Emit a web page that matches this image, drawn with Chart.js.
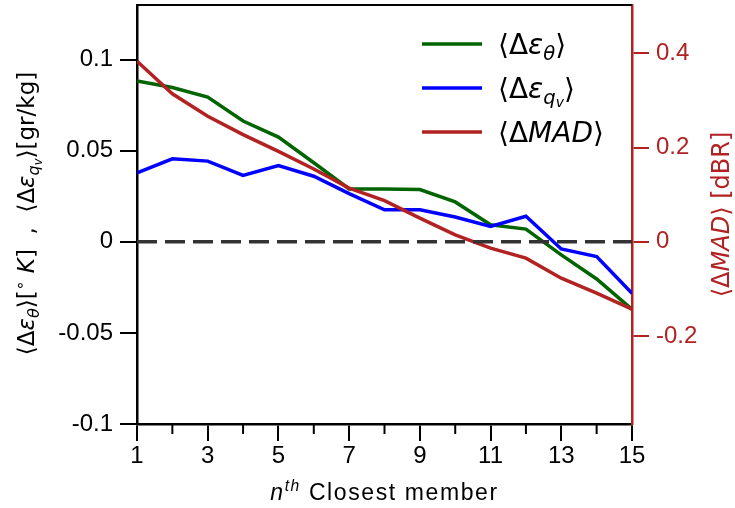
<!DOCTYPE html>
<html lang="en">
  <head>
    <meta charset="UTF-8" />
    <title>Closest member anomalies</title>
    <script src="https://cdn.jsdelivr.net/npm/chart.js@4.4.0/dist/chart.umd.min.js"></script>
    <style>
      body { margin: 0; background: #fff; }
      #wrap { width: 735px; height: 508px; position: relative; }
    </style>
  </head>
  <body>
    <div id="wrap"><canvas id="myChart"></canvas></div>

    <script>
      // values
      const members = [1, 2, 3, 4, 5, 6, 7, 8, 9, 10, 11, 12, 13, 14, 15];
      const epsTheta = [0.0883, 0.0847, 0.0795, 0.0663, 0.0575, 0.0434, 0.029, 0.029, 0.0287, 0.0219, 0.0094, 0.007, -0.0072, -0.0204, -0.0371];
      const epsQv = [0.0379, 0.0456, 0.0443, 0.0365, 0.0419, 0.036, 0.0265, 0.0176, 0.0176, 0.0136, 0.0085, 0.014, -0.0039, -0.0081, -0.0283];
      const madDiff = [0.3837, 0.3143, 0.2667, 0.2277, 0.1922, 0.1547, 0.1142, 0.0873, 0.0504, 0.0149, -0.0135, -0.0347, -0.0773, -0.109, -0.143];
      const zeroLine = [0, 0, 0, 0, 0, 0, 0, 0, 0, 0, 0, 0, 0, 0, 0];

      const xTicks = [1, 3, 5, 7, 9, 11, 13, 15];
      const xMinorTicks = [2, 4, 6, 8, 10, 12, 14];
      const leftTicks = [-0.1, -0.05, 0, 0.05, 0.1];
      const rightTicks = [-0.2, 0, 0.2, 0.4];

      const GREEN = 'rgb(0, 100, 0)';
      const BLUE = 'rgb(0, 0, 255)';
      const RED = 'rgb(178, 34, 34)';
      const MATH = 'DejaVu Sans';
      const TEXT = 'Liberation Sans';

      // rich text pieces (lv: 1 = subscript, 2 = sub-subscript, -1 = superscript)
      const legendItems = [
        { color: GREEN, segs: [{ t: '⟨Δ' }, { t: 'ε', it: true }, { t: 'θ', it: true, lv: 1 }, { t: '⟩' }] },
        { color: BLUE, segs: [{ t: '⟨Δ' }, { t: 'ε', it: true }, { t: 'q', it: true, lv: 1 }, { t: 'v', it: true, lv: 2 }, { t: '⟩' }] },
        { color: RED, segs: [{ t: '⟨Δ' }, { t: 'MAD', it: true }, { t: '⟩' }] }
      ];
      const leftTitle = [
        { t: '⟨Δ' }, { t: 'ε', it: true }, { t: 'θ', it: true, lv: 1 }, { t: '⟩[' }, { t: '∘', lv: -1 }, { t: ' ' },
        { t: 'K', it: true }, { t: ']  ,  ⟨Δ' }, { t: 'ε', it: true }, { t: 'q', it: true, lv: 1 }, { t: 'v', it: true, lv: 2 },
        { t: '⟩[gr/kg]' }
      ];
      const rightTitle = [{ t: '⟨Δ' }, { t: 'MAD', it: true }, { t: '⟩ [dBR]' }];
      const xTitle = [{ t: 'n', it: true }, { t: 'th', it: true, lv: -1 }, { t: ' Closest member' }];

      function drawRich(ctx, segs, x, y, size, color, family, rot, spacing) {
        ctx.save();
        ctx.translate(x, y);
        if (rot) ctx.rotate(rot);
        ctx.fillStyle = color;
        ctx.textBaseline = 'alphabetic';
        ctx.letterSpacing = (spacing || 0) + 'px';
        const parts = segs.map(s => {
          const lv = s.lv || 0;
          const fs = lv === 1 ? size * 0.7 : lv === 2 ? size * 0.5 : lv === -1 ? size * 0.68 : size;
          const dy = lv === 1 ? size * 0.2 : lv === 2 ? size * 0.33 : lv === -1 ? -size * 0.4 : 0;
          const font = (s.it ? 'italic ' : '') + fs + 'px "' + family + '"';
          ctx.font = font;
          return { t: s.t, font, dy, w: ctx.measureText(s.t).width };
        });
        const total = parts.reduce((a, p) => a + p.w, 0);
        let cx = rot ? -total / 2 : 0;
        const by = rot ? size * 0.35 : 0;
        parts.forEach(p => {
          ctx.font = p.font;
          ctx.fillText(p.t, cx, by + p.dy);
          cx += p.w;
        });
        ctx.restore();
        return total;
      }

      const decorations = {
        id: 'decorations',
        afterDraw(chart) {
          const ctx = chart.ctx;
          const ca = chart.chartArea;
          const xs = chart.scales.x;

          // top frame
          ctx.save();
          ctx.strokeStyle = '#000';
          ctx.lineWidth = 2;
          ctx.beginPath();
          ctx.moveTo(ca.left - 1, ca.top);
          ctx.lineTo(ca.right, ca.top);
          ctx.stroke();

          // minor ticks on x
          xMinorTicks.forEach(v => {
            const px = xs.getPixelForValue(v);
            ctx.beginPath();
            ctx.moveTo(px, ca.bottom);
            ctx.lineTo(px, ca.bottom + 10);
            ctx.stroke();
          });

          // legend
          legendItems.forEach((item, i) => {
            const ly = ca.top + 39 + i * 44;
            ctx.strokeStyle = item.color;
            ctx.lineWidth = 3.5;
            ctx.beginPath();
            ctx.moveTo(ca.left + 285, ly);
            ctx.lineTo(ca.left + 345, ly);
            ctx.stroke();
            drawRich(ctx, item.segs, ca.left + 361, ly + 10, 28, '#000', MATH, 0, 0);
          });
          ctx.restore();

          // axis titles
          drawRich(ctx, leftTitle, 26, (ca.top + ca.bottom) / 2 - 1, 23, '#000', MATH, -Math.PI / 2, 0);
          drawRich(ctx, rightTitle, 721, (ca.top + ca.bottom) / 2, 24, RED, MATH, -Math.PI / 2, 0);
          const w = drawRich(ctx, xTitle, -1000, -1000, 23, '#000', TEXT, 0, 1.6);
          drawRich(ctx, xTitle, (ca.left + ca.right) / 2 - w / 2, 500, 23, '#000', TEXT, 0, 1.6);
        }
      };

      const pts = arr => members.map((n, i) => ({ x: n, y: arr[i] }));
      const tickFont = { family: TEXT, size: 24 };

      const ctx = document.getElementById('myChart').getContext('2d');
      new Chart(ctx, {
        type: 'line',
        data: {
          datasets: [
            { label: 'zero', data: pts(zeroLine), yAxisID: 'y', borderColor: '#333', borderWidth: 3.5, borderDash: [20, 8], pointRadius: 0, order: 0 },
            { label: '⟨ΔMAD⟩', data: pts(madDiff), yAxisID: 'y1', borderColor: RED, borderWidth: 3.5, pointRadius: 0, order: 1 },
            { label: '⟨Δε_qv⟩', data: pts(epsQv), yAxisID: 'y', borderColor: BLUE, borderWidth: 3.5, pointRadius: 0, order: 2 },
            { label: '⟨Δε_θ⟩', data: pts(epsTheta), yAxisID: 'y', borderColor: GREEN, borderWidth: 3.5, pointRadius: 0, order: 3 }
          ]
        },
        options: {
          responsive: true,
          maintainAspectRatio: false,
          animation: false,
          layout: { padding: { top: 5, left: 0, right: 0, bottom: 0 } },
          plugins: { legend: { display: false }, tooltip: { enabled: false } },
          scales: {
            x: {
              type: 'linear', min: 1, max: 15,
              afterBuildTicks: s => { s.ticks = xTicks.map(v => ({ value: v })); },
              afterFit: s => { s.height = 84; s.paddingLeft = 0; s.paddingRight = 0; },
              grid: { drawOnChartArea: false, tickLength: 17, color: '#000', lineWidth: 2 },
              border: { color: '#000', width: 2.5 },
              ticks: { color: '#000', font: tickFont, padding: 1, maxRotation: 0, autoSkip: false, callback: v => String(v) }
            },
            y: {
              position: 'left', min: -0.1, max: 0.13,
              afterBuildTicks: s => { s.ticks = leftTicks.map(v => ({ value: v })); },
              afterFit: s => { s.width = 137; s.paddingTop = 0; s.paddingBottom = 0; },
              grid: { drawOnChartArea: false, tickLength: 17, color: '#000', lineWidth: 2 },
              border: { color: '#000', width: 2.5 },
              ticks: { color: '#000', font: tickFont, padding: 7, callback: v => String(v) }
            },
            y1: {
              position: 'right', min: -0.387, max: 0.503,
              afterBuildTicks: s => { s.ticks = rightTicks.map(v => ({ value: v })); },
              afterFit: s => { s.width = 103; s.paddingTop = 0; s.paddingBottom = 0; },
              grid: { drawOnChartArea: false, tickLength: 17, color: RED, lineWidth: 2 },
              border: { color: RED, width: 2.5 },
              ticks: { color: RED, font: tickFont, padding: 7, callback: v => String(v) }
            }
          }
        },
        plugins: [decorations]
      });
    </script>
  </body>
</html>
